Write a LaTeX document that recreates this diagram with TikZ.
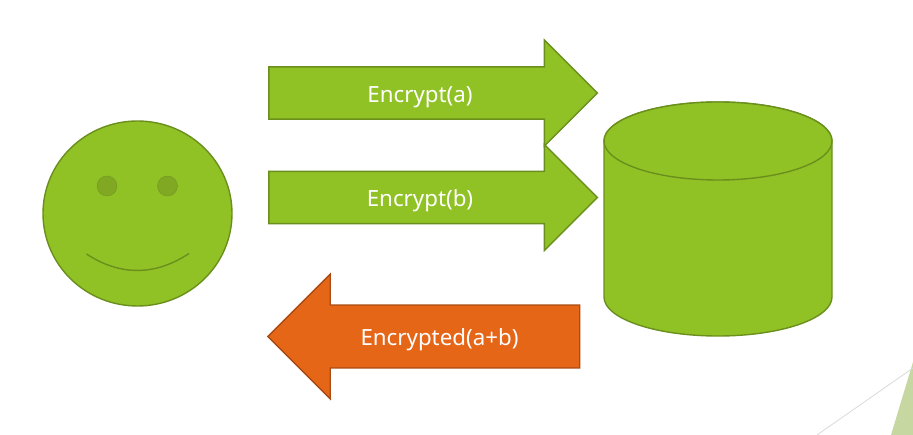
\documentclass[tikz,border=0pt]{standalone}
\usepackage{fontspec}
\setmainfont{Noto Sans}
\usetikzlibrary{shapes.arrows,shapes.geometric}
\definecolor{leaf}{HTML}{90C226}
\definecolor{leafdark}{HTML}{6A8F1C}
\definecolor{eye}{HTML}{80A823}
\definecolor{rust}{HTML}{E66618}
\definecolor{rustdark}{HTML}{A94B12}
\definecolor{pale}{HTML}{C7D7A2}
\definecolor{hair}{HTML}{DADADA}
\tikzset{
  greenshape/.style={draw=leafdark, fill=leaf, line width=1.4pt},
  eyeball/.style={circle, fill=eye, draw=eye!90!black, minimum size=20pt, inner sep=0pt},
  bigarrow/.style={single arrow, single arrow tip angle=90, inner xsep=0pt, text=white,
    font=\fontsize{22.3}{26}\selectfont, text height=19pt, text depth=0pt, line width=1.4pt}
}
\begin{document}
\begin{tikzpicture}[x=1pt,y=-1pt]
        \useasboundingbox (0,0) rectangle (913,435);
        % corner decoration
        \fill[pale] (891,435) -- (913,362) -- (913,435) -- cycle;
        \draw[hair, line width=0.8pt] (817,435) -- (913,368);
        % face
        \node[greenshape, ellipse, minimum width=189pt, minimum height=185pt, inner sep=0pt] (face) at (137.5,213.5) {};
        \node[eyeball] (lefteye) at (107,186) {};
        \node[eyeball] (righteye) at (167.5,186) {};
        \coordinate (smilel) at (86.5,254);
        \coordinate (smiler) at (189,253.5);
        \draw[leafdark, line width=1.4pt] (smilel) .. controls (120,276) and (155,276) .. (smiler);
        % arrows
        \node[bigarrow, greenshape, inner ysep=8pt, minimum width=106pt, minimum height=328.5pt, single arrow head extend=18.74pt] (encrypta) at (420,93) {\makebox[0pt]{Encrypt(a)}};
        \node[bigarrow, greenshape, inner ysep=8pt, minimum width=106pt, minimum height=328.5pt, single arrow head extend=18.74pt] (encryptb) at (420,197.5) {\makebox[0pt]{Encrypt(b)}};
        \node[bigarrow, draw=rustdark, fill=rust, inner ysep=12pt, minimum width=125pt, minimum height=312pt, single arrow head extend=21.9pt, shape border rotate=180] (encrypted) at (439.5,336.5) {\makebox[0pt]{Encrypted(a+b)}};
        % database
        \draw[greenshape] (604,141) -- (604,297) arc[start angle=180, end angle=360, x radius=114pt, y radius=39pt]
          -- (832,141) arc[start angle=0, end angle=180, x radius=114pt, y radius=39pt] -- cycle;
        \draw[greenshape] (718,141) ellipse[x radius=114pt, y radius=39pt];
\end{tikzpicture}
\end{document}
